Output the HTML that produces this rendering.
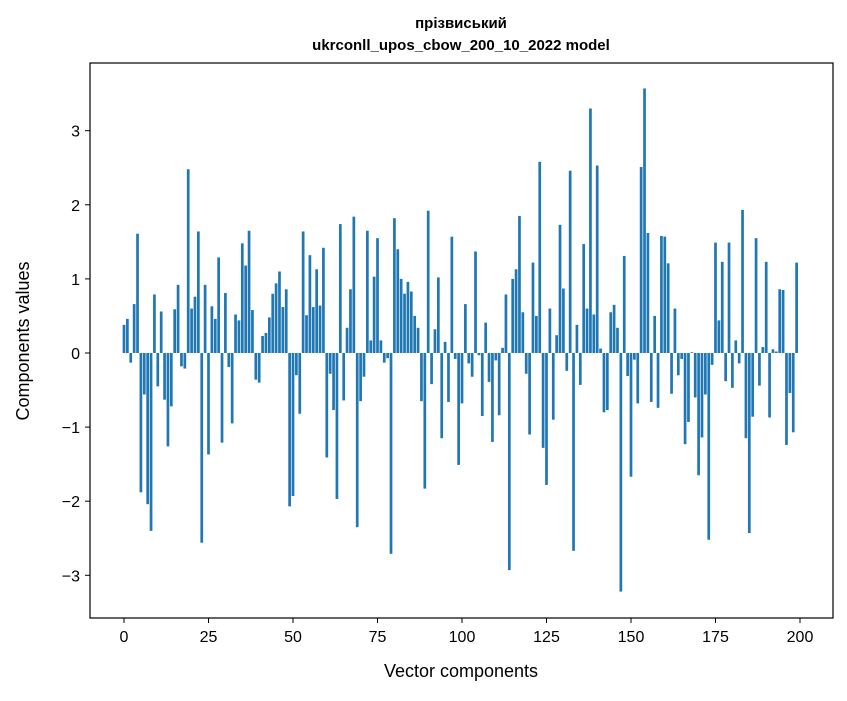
<!DOCTYPE html>
<html><head><meta charset="utf-8"><style>
body{margin:0;background:#fff;font-family:"Liberation Sans","DejaVu Sans",sans-serif;}
svg text{font-family:"Liberation Sans","DejaVu Sans",sans-serif;}
</style></head><body>
<svg id="chart" width="847" height="696" xmlns="http://www.w3.org/2000/svg">
<rect width="847" height="696" fill="#fff"/>
<text x="461" y="28" text-anchor="middle" font-size="15" font-weight="bold">прізвиський</text>
<text x="461" y="50" text-anchor="middle" font-size="15" font-weight="bold">ukrconll_upos_cbow_200_10_2022 model</text>
<g id="bars"></g>
<g id="axes"></g>
<rect x="90" y="63" width="743" height="555" fill="none" stroke="#000" stroke-width="1.2"/>
<text x="461" y="677" text-anchor="middle" font-size="18">Vector components</text>
<text transform="translate(29,341) rotate(-90)" text-anchor="middle" font-size="18">Components values</text>
</svg>
<script>
const values=[0.38,0.46,-0.13,0.66,1.61,-1.88,-0.56,-2.04,-2.40,0.79,-0.45,0.56,-0.63,-1.26,-0.72,0.59,0.92,-0.18,-0.21,2.48,
0.60,0.76,1.64,-2.56,0.92,-1.37,0.63,0.46,1.29,-1.21,0.81,-0.19,-0.95,0.52,0.44,1.48,1.18,1.65,0.58,-0.36,
-0.40,0.23,0.27,0.48,0.80,0.94,1.10,0.62,0.86,-2.07,-1.93,-0.30,-0.82,1.64,0.51,1.32,0.62,1.13,0.64,1.42,
-1.41,-0.28,-0.77,-1.97,1.74,-0.64,0.34,0.86,1.84,-2.35,-0.65,-0.32,1.65,0.17,1.03,1.55,0.17,-0.13,-0.07,-2.71,
1.82,1.40,1.00,0.80,0.96,0.83,0.50,0.34,-0.65,-1.83,1.92,-0.42,0.32,1.02,-1.15,0.15,-0.66,1.57,-0.08,-1.51,
-0.68,0.66,-0.14,-0.32,1.37,-0.03,-0.85,0.41,-0.39,-1.20,-0.10,-0.84,0.07,0.79,-2.93,1.00,1.13,1.85,0.55,-0.28,
-1.10,1.22,0.50,2.58,-1.28,-1.78,0.60,-0.90,0.24,1.73,0.87,-0.24,2.46,-2.67,0.38,-0.43,1.47,0.60,3.30,0.52,
2.53,0.06,-0.80,-0.77,0.55,0.65,0.34,-3.22,1.31,-0.31,-1.67,-0.09,-0.68,2.51,3.57,1.62,-0.66,0.50,-0.74,1.58,
1.57,1.21,-0.55,0.60,-0.30,-0.08,-1.23,-0.93,0.01,-0.60,-1.65,-1.14,-0.56,-2.52,-0.16,1.49,0.44,1.23,-0.38,1.49,
-0.47,0.17,-0.14,1.93,-1.15,-2.43,-0.86,1.55,-0.44,0.08,1.23,-0.87,0.05,0.02,0.86,0.85,-1.24,-0.54,-1.07,1.22];
const xTicks=[0,25,50,75,100,125,150,175,200];
const yTicks=[-3,-2,-1,0,1,2,3];
const NS="http://www.w3.org/2000/svg";
const xs=v=>124+v*3.38;
const ys=v=>353-v*74.1;
const bars=document.getElementById('bars');
values.forEach((v,i)=>{
  const r=document.createElementNS(NS,'rect');
  
  
  const y0=ys(0),y1=ys(v);
  r.setAttribute('x',xs(i-0.4));r.setAttribute('width',3.38*0.8);
  r.setAttribute('y',Math.min(y0,y1));r.setAttribute('height',Math.abs(y1-y0));
  r.setAttribute('fill','#1f77b4');
  bars.appendChild(r);
});
const axes=document.getElementById('axes');
xTicks.forEach(t=>{
  const l=document.createElementNS(NS,'line');
  
  
  l.setAttribute('x1',xs(t));l.setAttribute('x2',xs(t));l.setAttribute('y1',618);l.setAttribute('y2',623);l.setAttribute('stroke','#000');
  axes.appendChild(l);
  const tx=document.createElementNS(NS,'text');
  
  
  tx.setAttribute('x',xs(t));tx.setAttribute('y',642);tx.setAttribute('text-anchor','middle');tx.setAttribute('font-size','16');
  tx.textContent=t;axes.appendChild(tx);
});
yTicks.forEach(t=>{
  const l=document.createElementNS(NS,'line');
  
  
  l.setAttribute('x1',85);l.setAttribute('x2',90);l.setAttribute('y1',ys(t));l.setAttribute('y2',ys(t));l.setAttribute('stroke','#000');
  axes.appendChild(l);
  const tx=document.createElementNS(NS,'text');
  
  
  tx.setAttribute('x',80);tx.setAttribute('y',ys(t)+6);tx.setAttribute('text-anchor','end');tx.setAttribute('font-size','16');
  tx.textContent=t<0?'\u2212'+(-t):t;axes.appendChild(tx);
});
</script>
</body></html>
